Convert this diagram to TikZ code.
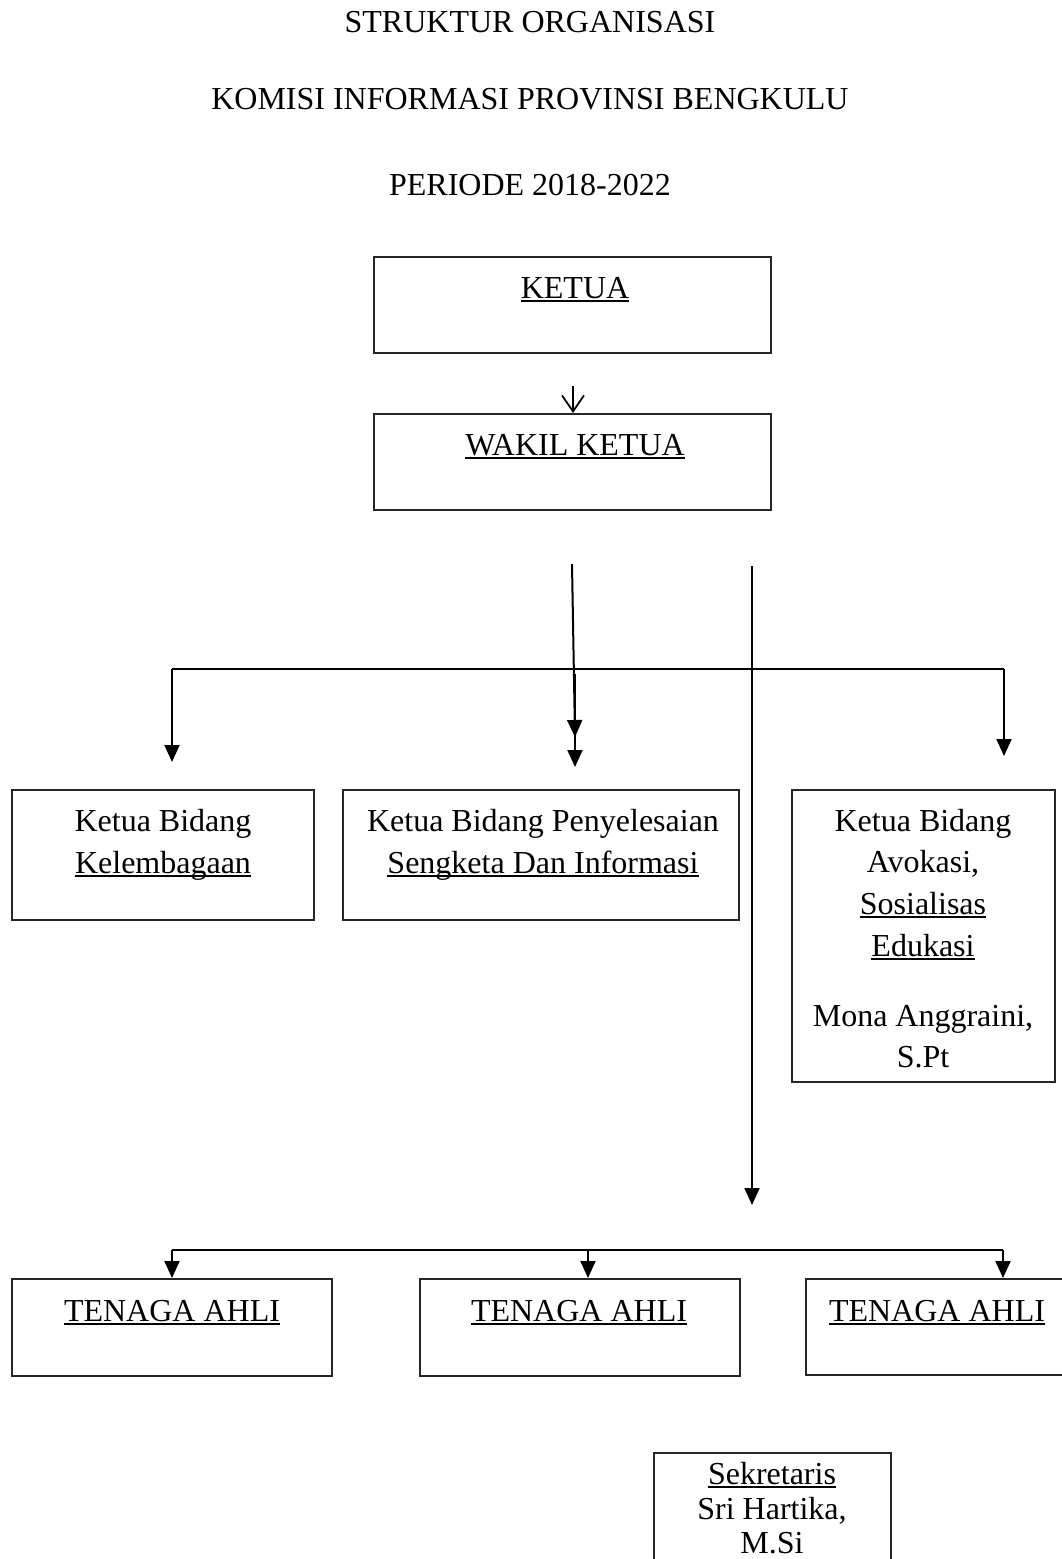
\documentclass[tikz,border=0pt]{standalone}
\usepackage{fontspec}
\setmainfont{Liberation Serif}
\usetikzlibrary{arrows.meta}
\newcommand\myul[1]{\setbox0\hbox{#1}\rlap{\rule[-4pt]{\wd0}{1.6pt}}\box0}
\begin{document}
\begin{tikzpicture}[x=1pt,y=-1pt,
  box/.style={draw=black!85, line width=2pt, inner sep=0pt},
  lab/.style={anchor=base, inner sep=0pt, font=\fontsize{32pt}{40pt}\selectfont},
  conn/.style={draw=black, line width=2pt},
  arr/.style={conn, -{Triangle[length=17pt,width=15pt]}},
  varr/.style={draw=black, line width=1.8pt, -{Straight Barb[length=16pt,width=22pt,line width=1.8pt]}}
]
\useasboundingbox (0,0) rectangle (1062,1559);
\clip (0,0) rectangle (1062,1559);

% titles
\node[lab] (t1) at (530,32) {STRUKTUR ORGANISASI};
\node[lab] (t2) at (530,109) {KOMISI INFORMASI PROVINSI BENGKULU};
\node[lab] (t3) at (530,195) {PERIODE 2018-2022};

% top boxes
\node[box, minimum width=397pt, minimum height=96pt] (ketua) at (572.5,305) {};
\node[lab] (ketuaT) at (575,298) {\myul{KETUA}};
\node[box, minimum width=397pt, minimum height=96pt] (wakil) at (572.5,462) {};
\node[lab] (wakilT) at (575,455) {\myul{WAKIL KETUA}};

% second row boxes
\node[box, minimum width=302pt, minimum height=130pt] (kel) at (162.5,855) {};
\node[lab] (kel1) at (163,831) {Ketua Bidang};
\node[lab] (kel2) at (163,873) {\myul{Kelembagaan}};

\node[box, minimum width=396pt, minimum height=130pt] (pen) at (541,855) {};
\node[lab] (pen1) at (543,831) {Ketua Bidang Penyelesaian};
\node[lab] (pen2) at (543,873) {\myul{Sengketa Dan Informasi}};

\node[box, minimum width=263pt, minimum height=292pt] (avo) at (923.5,936) {};
\node[lab] (avo1) at (923,831) {Ketua Bidang};
\node[lab] (avo2) at (923,872) {Avokasi,};
\node[lab] (avo3) at (923,914) {\myul{Sosialisas}};
\node[lab] (avo4) at (923,956) {\myul{Edukasi}};
\node[lab] (avo5) at (923,1026) {Mona Anggraini,};
\node[lab] (avo6) at (923,1067) {S.Pt};

% tenaga ahli boxes
\node[box, minimum width=320pt, minimum height=97pt] (ta1) at (172,1327.5) {};
\node[lab] (ta1T) at (172,1321) {\myul{TENAGA AHLI}};
\node[box, minimum width=320pt, minimum height=97pt] (ta2) at (580,1327.5) {};
\node[lab] (ta2T) at (579,1321) {\myul{TENAGA AHLI}};
\node[box, minimum width=264pt, minimum height=96pt] (ta3) at (938,1327) {};
\node[lab] (ta3T) at (937,1321) {\myul{TENAGA AHLI}};

% sekretaris
\node[box, minimum width=237pt, minimum height=140pt] (sek) at (772.5,1523) {};
\node[lab] (sek1) at (772,1484) {\myul{Sekretaris}};
\node[lab] (sek2) at (772,1519) {Sri Hartika,};
\node[lab] (sek3) at (772,1553) {M.Si};

% connectors
\coordinate (a0) at (573,386);
\coordinate (a1) at (573,413);
\draw[varr] (a0) -- (a1);

\coordinate (m0) at (572,564);
\coordinate (m1) at (575,737);
\coordinate (m2) at (575,674);
\coordinate (m3) at (575,767);
\draw[arr] (m0) -- (m1);
\draw[arr] (m2) -- (m3);

\coordinate (v0) at (752,566);
\coordinate (v1) at (752,1205);
\draw[arr] (v0) -- (v1);

\coordinate (hL) at (172,669);
\coordinate (hR) at (1004,669);
\coordinate (hLd) at (172,762);
\coordinate (hRd) at (1004,756);
\draw[conn] (hL) -- (hR);
\draw[arr] (hL) -- (hLd);
\draw[arr] (hR) -- (hRd);

\coordinate (bL) at (172,1250);
\coordinate (bM) at (588,1250);
\coordinate (bR) at (1003,1250);
\draw[conn] (bL) -- (bR);
\draw[arr] (bL) -- (ta1.north -| bL);
\draw[arr] (bM) -- (ta2.north -| bM);
\draw[arr] (bR) -- (ta3.north -| bR);
\end{tikzpicture}
\end{document}
